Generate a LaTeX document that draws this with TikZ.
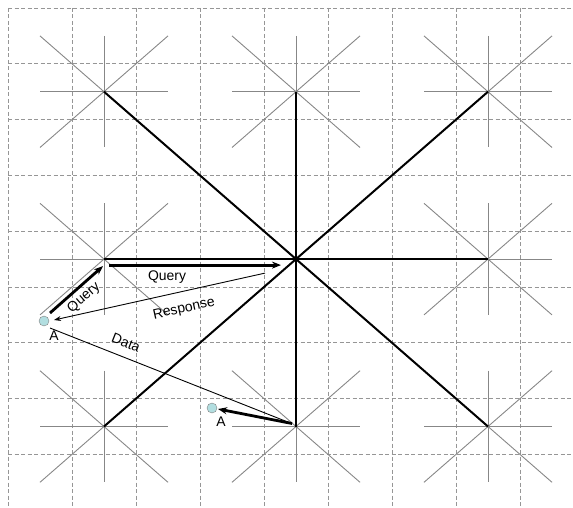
\documentclass[tikz,border=0pt]{standalone}
\usepackage{fontspec}
\setmainfont{Liberation Sans}
\usetikzlibrary{arrows.meta,calc}
\definecolor{gridc}{RGB}{150,150,150}
\definecolor{armc}{RGB}{135,135,135}
\definecolor{nodec}{RGB}{178,222,224}
\tikzset{
  grid/.style={draw=gridc,line width=0.9bp,dash pattern=on 4bp off 2.5bp},
  arm/.style={draw=armc,line width=0.9bp},
  link/.style={line width=2bp,black},
  hop/.style={-{Stealth[length=9bp,width=7bp]},line width=2.8bp},
  reply/.style={-{Stealth[length=7bp,width=5bp]},line width=0.9bp},
  anode/.style={circle,draw=gray,fill=nodec,minimum size=10bp,inner sep=0pt},
  lbl/.style={font=\fontsize{14}{16}\selectfont,inner sep=0pt},
}

\begin{document}
\begin{tikzpicture}[x=1bp,y=-1bp]
  \useasboundingbox (0,0) rectangle (573,508);

  % dashed grid
  \foreach \i in {0,...,8} {
    \draw[grid] (8+64*\i,8) -- (8+64*\i,508);
    \draw[grid] (8,8+55.8*\i) -- (573,8+55.8*\i);
  }

  % small stars, one per 3x3 block
  \foreach \r in {0,1,2} \foreach \c in {0,1,2} {
    \coordinate (s\r\c) at (104+192*\c,91.7+167.4*\r);
    \draw[arm] ($(s\r\c)+(-64,0)$) -- ($(s\r\c)+(64,0)$);
    \draw[arm] ($(s\r\c)+(0,-55.8)$) -- ($(s\r\c)+(0,55.8)$);
    \draw[arm] ($(s\r\c)+(-64,-55.8)$) -- ($(s\r\c)+(64,55.8)$);
    \draw[arm] ($(s\r\c)+(-64,55.8)$) -- ($(s\r\c)+(64,-55.8)$);
  }

  % big star from the centre
  \foreach \t in {00,01,02,10,12,20,21,22}
    \draw[link] (s11) -- (s\t);
  \fill (s11) circle (2.2bp);

  % the two positions of A
  \node[anode] (A1) at (44,321) {};
  \node[anode] (A2) at (212,408) {};
  \node[lbl] (A1txt) at (54,336) {A};
  \node[lbl] (A2txt) at (221,422) {A};

  % messages
  \draw[hop] ($(A1)+(6,-8)$) -- ($(s10)+(-1,7)$);
  \draw[hop] ($(s10)+(5,6)$) -- ($(s11)+(-15,6)$);
  \draw[reply] ($(s11)+(-31,14)$) -- ($(A1)+(10,-1)$);
  \draw[line width=0.9bp] ($(A1)+(6,7)$) -- ($(s21)+(-7,-4)$);
  \draw[hop] ($(s21)+(-4,-3)$) -- ($(A2)+(6,1)$);

  \node[lbl,rotate=41] (q1txt) at (84,298) {Query};
  \node[lbl] (q2txt) at (167,277) {Query};
  \node[lbl,rotate=12.5] (rtxt) at (184,309) {Response};
  \node[lbl,rotate=-21.6] (dtxt) at (126,343) {Data};
\end{tikzpicture}
\end{document}
